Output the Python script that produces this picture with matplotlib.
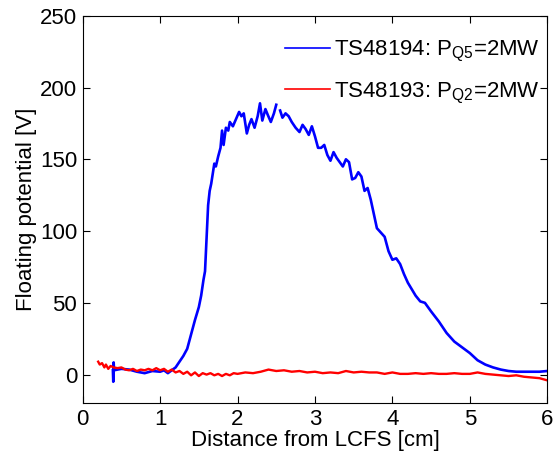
import numpy as np
import matplotlib.pyplot as plt
from matplotlib.lines import Line2D

# TS48194 (P_Q5 = 2MW), blue; gap in the trace near 2.5 cm
bx = [0.39, 0.395, 0.40, 0.405, 0.45, 0.5, 0.6, 0.7, 0.8, 0.9, 1.0, 1.05, 1.1, 1.15,
      1.2, 1.25, 1.3, 1.35, 1.4, 1.45, 1.5, 1.53, 1.56, 1.58, 1.6, 1.62, 1.64, 1.66,
      1.68, 1.7, 1.72, 1.75, 1.78, 1.8, 1.82, 1.85, 1.88, 1.9, 1.94, 1.98, 2.02, 2.05,
      2.08, 2.12, 2.15, 2.18, 2.22, 2.26, 2.29, 2.32, 2.36, 2.39, 2.43, 2.47, 2.50,
      np.nan, 2.55, 2.58, 2.62, 2.66, 2.7, 2.75, 2.8, 2.84, 2.88, 2.92, 2.96, 3.0,
      3.04, 3.08, 3.12, 3.16, 3.2, 3.24, 3.28, 3.32, 3.36, 3.4, 3.44, 3.48, 3.52,
      3.56, 3.6, 3.64, 3.68, 3.72, 3.76, 3.8, 3.85, 3.9, 3.95, 4.0, 4.05, 4.1, 4.15,
      4.2, 4.3, 4.36, 4.42, 4.5, 4.6, 4.7, 4.8, 4.9, 5.0, 5.1, 5.2, 5.3, 5.4, 5.5,
      5.6, 5.7, 5.8, 5.9, 6.0]
by = [3, -5, 8.5, 3, 3.5, 4, 3.5, 2, 1, 2.5, 2, 3, 1, 3,
      5, 9, 13, 18, 28, 38, 47, 55, 66, 72, 95, 118, 128, 133,
      140, 147, 145, 152, 158, 170, 160, 172, 170, 176, 173, 178, 183, 180,
      182, 168, 174, 178, 172, 180, 189, 177, 185, 181, 176, 182, 188,
      np.nan, 184, 179, 182, 180, 176, 172, 169, 174, 171, 167, 173, 166,
      158, 158, 160, 153, 149, 155, 151, 148, 145, 150, 148, 136, 137,
      141, 138, 128, 130, 122, 112, 102, 99, 96, 86, 80, 81, 77, 70,
      64, 55, 51, 50, 44, 37, 29, 23, 19, 15, 10, 7, 5, 3.5, 2.5,
      2, 2, 2, 2, 2.5]

# TS48193 (P_Q2 = 2MW), red
rx = [0.2, 0.22, 0.25, 0.28, 0.3, 0.33, 0.36, 0.4, 0.45, 0.5, 0.55, 0.6, 0.65, 0.7,
      0.75, 0.8, 0.85, 0.9, 0.95, 1.0, 1.05, 1.1, 1.15, 1.2, 1.25, 1.3, 1.35, 1.4,
      1.45, 1.5, 1.55, 1.6, 1.65, 1.7, 1.75, 1.8, 1.85, 1.9, 1.95, 2.0, 2.1, 2.2,
      2.3, 2.4, 2.5, 2.6, 2.7, 2.8, 2.9, 3.0, 3.1, 3.2, 3.3, 3.4, 3.5, 3.6, 3.7,
      3.8, 3.9, 4.0, 4.1, 4.2, 4.3, 4.4, 4.5, 4.6, 4.7, 4.8, 4.9, 5.0, 5.1, 5.2,
      5.3, 5.4, 5.5, 5.6, 5.7, 5.8, 5.9, 6.0]
ry = [9, 7, 8, 5, 7, 4, 6, 5, 4.5, 5, 3.5, 3, 4, 2.5,
      3.5, 3, 4, 3, 4.5, 3, 4, 2, 3.5, 1.5, 2.5, 0.5, 2, -0.5,
      1.5, -1, 1, 0, 1, -0.5, 0.5, -1, 0.5, -0.5, 1, 0.5, 1.5, 1,
      2, 3.5, 2.5, 3, 2, 2.5, 1.5, 2, 1, 1.5, 1, 2.5, 1.5, 2, 1.5,
      1.5, 0.5, 1.5, 0.5, 0.5, 1, 0.5, 1, 0.5, 0.5, 1, 0.5, 0.5, 1.5, 0.5,
      0, -0.5, -1, -0.5, -1.5, -2, -2.5, -4]

labels = ['TS48194: P$_{\\mathrm{Q5}}$=2MW', 'TS48193: P$_{\\mathrm{Q2}}$=2MW']

plt.rcParams['font.family'] = ['Liberation Sans', 'DejaVu Sans']
plt.rcParams['mathtext.fontset'] = 'custom'
plt.rcParams['mathtext.rm'] = 'Liberation Sans'
fs = 16

fig = plt.figure(figsize=(5.55, 4.57), dpi=100)
ax = fig.add_axes([0.149, 0.1175, 0.837, 0.848])

ax.plot(bx, by, color='#0000ff', lw=1.9)
ax.plot(rx, ry, color='#ff0000', lw=1.7)

ax.set_xlim(0, 6)
ax.set_ylim(-20, 250)
ax.set_xticks(range(0, 7))
ax.set_yticks(range(0, 251, 50))
ax.tick_params(direction='in', length=5, top=True, right=True, labelsize=fs, width=0.8, pad=4)
ax.set_xlabel('Distance from LCFS [cm]', fontsize=fs, labelpad=0)
ax.set_ylabel('Floating potential [V]', fontsize=fs, labelpad=2)

handles = [Line2D([], [], color='#0000ff', lw=1.2), Line2D([], [], color='#ff0000', lw=1.2)]
ax.legend(handles, labels, loc='upper right', bbox_to_anchor=(1.013, 0.975), frameon=False,
          fontsize=fs, handlelength=2.0, handletextpad=0.2, labelspacing=0.75, borderaxespad=0.2)

fig.savefig('out.png', dpi=100)
